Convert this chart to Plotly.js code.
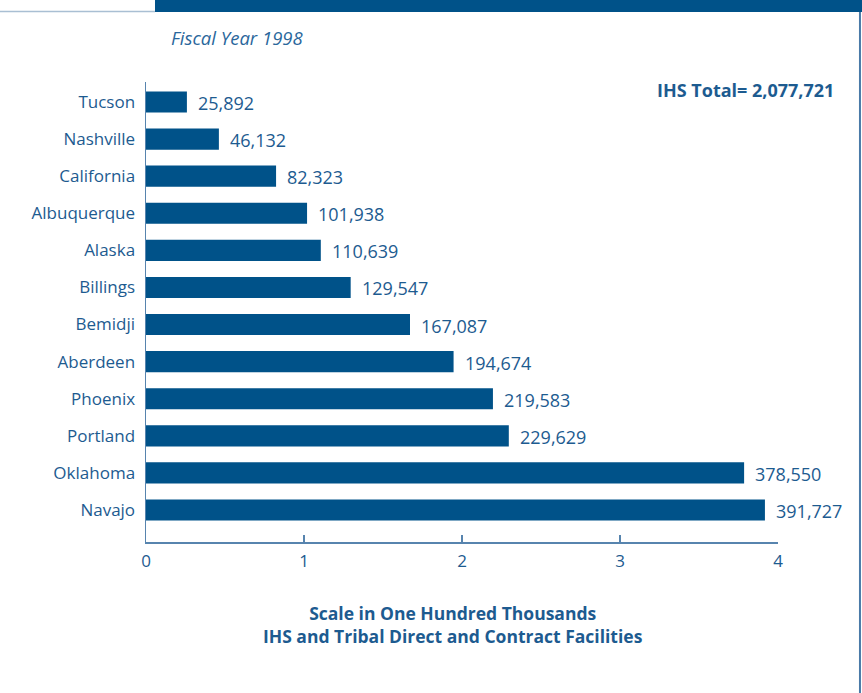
<!DOCTYPE html>
<html>
<head>
<meta charset="utf-8">
<script src="https://cdn.plot.ly/plotly-3.0.1.min.js"></script>
<style>html,body{margin:0;padding:0;background:#fff;}#chart{width:862px;height:693px;}</style>
</head>
<body>
<div id="chart"></div>
<script>
// Data (top to bottom)
var areas = ["Tucson","Nashville","California","Albuquerque","Alaska","Billings","Bemidji","Aberdeen","Phoenix","Portland","Oklahoma","Navajo"];
var users = [25892,46132,82323,101938,110639,129547,167087,194674,219583,229629,378550,391727];
var scaleUnit = 100000;
var xTicks = [0,1,2,3,4];
var titleText = "Fiscal Year 1998";
var totalText = "IHS Total= 2,077,721";
var axisTitle = "Scale in One Hundred Thousands<br>IHS and Tribal Direct and Contract Facilities";

var barColor = "#005289";
var textColor = "#1d5b90";
var axisColor = "#5784ae";
var FONT = "Open Sans, sans-serif";

var xs = users.map(function(v){return v/scaleUnit;});
var labels = users.map(function(v){return v.toLocaleString("en-US");});

var trace = {
  type: "bar", orientation: "h",
  x: xs, y: areas,
  marker: {color: barColor},
  width: 0.57,
  hoverinfo: "none"
};

var anns = areas.map(function(a,i){
  return {x: xs[i], y: a, xref:"x", yref:"y", text: labels[i], showarrow:false,
    xanchor:"left", yanchor:"middle", xshift: 9, yshift: -1,
    font:{family:FONT, size:18, color:textColor}};
});
anns.push({x:0.0364, y:1.0957, xref:"paper", yref:"paper", text:"<i>"+titleText+"</i>", showarrow:false,
  xanchor:"left", yanchor:"middle", font:{family:FONT, size:18.5, color:"#2a679c"}});
anns.push({x:1.0917, y:0.9826, xref:"paper", yref:"paper", text:"<b>"+totalText+"</b>", showarrow:false,
  xanchor:"right", yanchor:"middle", font:{family:FONT, size:18, color:textColor}});
anns.push({x:0.4858, y:-0.1804, xref:"paper", yref:"paper", text:"<b>"+axisTitle+"</b>", showarrow:false,
  xanchor:"center", yanchor:"middle", align:"center", font:{family:FONT, size:17.5, color:textColor}});

var layout = {
  width: 862, height: 693,
  margin: {l:146, r:84, t:82, b:151, pad:0},
  paper_bgcolor:"#fff", plot_bgcolor:"#fff",
  showlegend:false,
  font:{family:FONT, size:16, color:textColor},
  xaxis: {range:[0,4], tickvals:xTicks, ticktext:xTicks.map(String), showgrid:false, zeroline:false,
    showline:true, linecolor:axisColor, linewidth:1.5, ticks:"inside", ticklen:7, tickwidth:1.5, tickcolor:axisColor,
    tickfont:{family:FONT, size:17, color:textColor}, ticklabelstandoff:3, fixedrange:true},
  yaxis: {type:"category", categoryorder:"array", categoryarray:areas, range:[11.863,-0.539],
    showgrid:false, zeroline:false, showline:true, linecolor:axisColor, linewidth:1.5, ticks:"",
    tickfont:{family:FONT, size:17, color:textColor}, ticklabelstandoff:6, fixedrange:true},
  annotations: anns,
  shapes: [
    {type:"rect", xref:"paper", yref:"paper", x0:0.01424, x1:1.14, y0:1.1522, y1:1.19, fillcolor:barColor, line:{width:0}},
    {type:"line", xref:"paper", yref:"paper", x0:-0.24, x1:0.01424, y0:1.1533, y1:1.1533, line:{color:"#a9bfd3", width:1.5}},
    {type:"line", xref:"paper", yref:"paper", x0:1.1297, x1:1.1297, y0:-0.34, y1:1.1522, line:{color:"#4a7aa8", width:2}}
  ]
};

Plotly.newPlot("chart", [trace], layout, {displayModeBar:false, staticPlot:true});
</script>
</body>
</html>
